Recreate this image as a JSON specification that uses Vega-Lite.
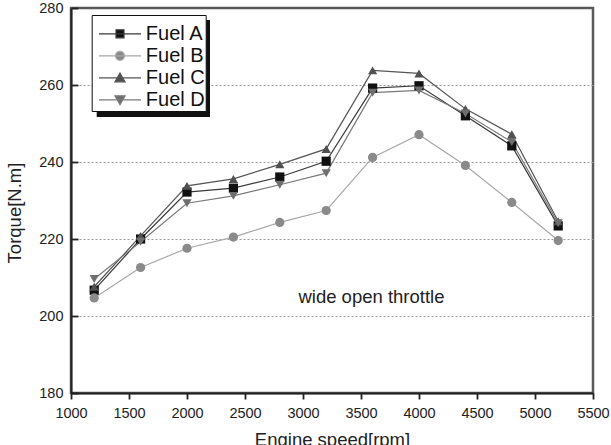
{
  "$schema": "https://vega.github.io/schema/vega-lite/v6.json",
  "width": 522,
  "height": 385,
  "autosize": {"type": "none"},
  "padding": {"left": 71, "top": 8, "right": 18, "bottom": 52},
  "background": "white",
  "config": {
    "font": "Liberation Sans",
    "view": {"stroke": "#5a5a5a", "strokeWidth": 2.5}
  },
  "datasets": {
    "torque": [
      {"rpm": 1200, "fuel": "Fuel A", "torque": 206.7},
      {"rpm": 1600, "fuel": "Fuel A", "torque": 220.0},
      {"rpm": 2000, "fuel": "Fuel A", "torque": 232.2},
      {"rpm": 2400, "fuel": "Fuel A", "torque": 233.2},
      {"rpm": 2800, "fuel": "Fuel A", "torque": 236.1},
      {"rpm": 3200, "fuel": "Fuel A", "torque": 240.2},
      {"rpm": 3600, "fuel": "Fuel A", "torque": 259.2},
      {"rpm": 4000, "fuel": "Fuel A", "torque": 259.8},
      {"rpm": 4400, "fuel": "Fuel A", "torque": 252.0},
      {"rpm": 4800, "fuel": "Fuel A", "torque": 244.2},
      {"rpm": 5200, "fuel": "Fuel A", "torque": 223.4},
      {"rpm": 1200, "fuel": "Fuel B", "torque": 204.7},
      {"rpm": 1600, "fuel": "Fuel B", "torque": 212.6},
      {"rpm": 2000, "fuel": "Fuel B", "torque": 217.6},
      {"rpm": 2400, "fuel": "Fuel B", "torque": 220.5},
      {"rpm": 2800, "fuel": "Fuel B", "torque": 224.3},
      {"rpm": 3200, "fuel": "Fuel B", "torque": 227.4},
      {"rpm": 3600, "fuel": "Fuel B", "torque": 241.2},
      {"rpm": 4000, "fuel": "Fuel B", "torque": 247.1},
      {"rpm": 4400, "fuel": "Fuel B", "torque": 239.1},
      {"rpm": 4800, "fuel": "Fuel B", "torque": 229.5},
      {"rpm": 5200, "fuel": "Fuel B", "torque": 219.6},
      {"rpm": 1200, "fuel": "Fuel C", "torque": 207.6},
      {"rpm": 1600, "fuel": "Fuel C", "torque": 220.8},
      {"rpm": 2000, "fuel": "Fuel C", "torque": 233.8},
      {"rpm": 2400, "fuel": "Fuel C", "torque": 235.6},
      {"rpm": 2800, "fuel": "Fuel C", "torque": 239.4},
      {"rpm": 3200, "fuel": "Fuel C", "torque": 243.4},
      {"rpm": 3600, "fuel": "Fuel C", "torque": 263.8},
      {"rpm": 4000, "fuel": "Fuel C", "torque": 263.0},
      {"rpm": 4400, "fuel": "Fuel C", "torque": 253.8},
      {"rpm": 4800, "fuel": "Fuel C", "torque": 247.2},
      {"rpm": 5200, "fuel": "Fuel C", "torque": 224.6},
      {"rpm": 1200, "fuel": "Fuel D", "torque": 209.6},
      {"rpm": 1600, "fuel": "Fuel D", "torque": 219.3},
      {"rpm": 2000, "fuel": "Fuel D", "torque": 229.3},
      {"rpm": 2400, "fuel": "Fuel D", "torque": 231.2},
      {"rpm": 2800, "fuel": "Fuel D", "torque": 234.1},
      {"rpm": 3200, "fuel": "Fuel D", "torque": 237.1},
      {"rpm": 3600, "fuel": "Fuel D", "torque": 258.0},
      {"rpm": 4000, "fuel": "Fuel D", "torque": 258.6},
      {"rpm": 4400, "fuel": "Fuel D", "torque": 252.6},
      {"rpm": 4800, "fuel": "Fuel D", "torque": 245.2},
      {"rpm": 5200, "fuel": "Fuel D", "torque": 224.1}
    ],
    "single": [{"note": "wide open throttle"}]
  },
  "layer": [
    {
      "data": {"name": "torque"},
      "mark": {"type": "line", "strokeWidth": 1.2},
      "encoding": {
        "x": {
          "field": "rpm",
          "type": "quantitative",
          "scale": {"domain": [1000, 5500], "nice": false, "zero": false},
          "axis": {
            "title": "Engine speed[rpm]",
            "values": [1000, 1250, 1500, 1750, 2000, 2250, 2500, 2750, 3000, 3250, 3500, 3750, 4000, 4250, 4500, 4750, 5000, 5250, 5500],
            "format": "d",
            "labelExpr": "datum.value % 500 === 0 ? datum.label : ''",
            "grid": false,
            "tickSize": 6,
            "tickDash": {"condition": {"test": "datum.value % 500 !== 0", "value": [4, 20]}, "value": []},
            "tickColor": "#222222",
            "tickWidth": 1.8,
            "domainColor": "#222222",
            "domainWidth": 2,
            "labelFontSize": 14.5,
            "labelColor": "#222222",
            "labelPadding": 7,
            "labelOverlap": false,
            "labelFlush": false,
            "titleFontSize": 18.5,
            "titleFontWeight": "normal",
            "titleColor": "#222222",
            "titleY": 37,
            "titleBaseline": "top"
          }
        },
        "y": {
          "field": "torque",
          "type": "quantitative",
          "scale": {"domain": [180, 280], "nice": false, "zero": false},
          "axis": {
            "title": "Torque[N.m]",
            "values": [180, 190, 200, 210, 220, 230, 240, 250, 260, 270, 280],
            "labelExpr": "datum.value % 20 === 0 ? datum.label : ''",
            "grid": true,
            "gridDash": [2, 2],
            "gridColor": "#9a9a9a",
            "gridWidth": 1,
            "gridOpacity": {"condition": {"test": "datum.value % 20 !== 0 || datum.value === 180 || datum.value === 280", "value": 0}, "value": 1},
            "tickSize": -7,
            "tickDash": {"condition": {"test": "datum.value % 20 !== 0", "value": [4.5, 20]}, "value": []},
            "tickColor": "#222222",
            "tickWidth": 1.8,
            "domainColor": "#222222",
            "domainWidth": 2,
            "labelFontSize": 14.5,
            "labelColor": "#222222",
            "labelPadding": 15,
            "labelOverlap": false,
            "labelFlush": false,
            "titleFontSize": 18.5,
            "titleFontWeight": "normal",
            "titleColor": "#222222",
            "titleX": -50.5,
            "titleY": 204.5,
            "titleBaseline": "alphabetic"
          }
        },
        "color": {
          "field": "fuel",
          "type": "nominal",
          "scale": {"domain": ["Fuel A", "Fuel B", "Fuel C", "Fuel D"], "range": ["#3a3a3a", "#a8a8a8", "#555555", "#7a7a7a"]},
          "legend": null
        }
      }
    },
    {
      "data": {"name": "torque"},
      "mark": {"type": "point", "filled": true, "opacity": 1, "size": 85},
      "encoding": {
        "x": {"field": "rpm", "type": "quantitative"},
        "y": {"field": "torque", "type": "quantitative"},
        "color": {
          "field": "fuel",
          "type": "nominal",
          "scale": {"domain": ["Fuel A", "Fuel B", "Fuel C", "Fuel D"], "range": ["#111111", "#8a8a8a", "#505050", "#6e6e6e"]},
          "legend": null
        },
        "shape": {
          "field": "fuel",
          "type": "nominal",
          "scale": {"domain": ["Fuel A", "Fuel B", "Fuel C", "Fuel D"], "range": ["square", "circle", "triangle-up", "triangle-down"]},
          "legend": null
        }
      }
    },
    {
      "data": {"name": "single"},
      "mark": {"type": "rect", "color": "#111111"},
      "encoding": {
        "x": {"datum": 1221.6, "type": "quantitative"},
        "x2": {"datum": 2198.3},
        "y": {"datum": 276.88, "type": "quantitative"},
        "y2": {"datum": 251.7}
      }
    },
    {
      "data": {"name": "torque"},
      "mark": {"type": "point", "filled": true, "opacity": 0},
      "encoding": {
        "x": {"field": "rpm", "type": "quantitative"},
        "y": {"field": "torque", "type": "quantitative"},
        "fill": {
          "field": "fuel",
          "type": "nominal",
          "scale": {"domain": ["Fuel A", "Fuel B", "Fuel C", "Fuel D"], "range": ["#111111", "#8a8a8a", "#505050", "#6e6e6e"]},
          "legend": {"title": " ", "titleFontSize": 6, "titlePadding": 4.3, "orient": "none", "legendX": 20.7, "legendY": 7, "fillColor": "white", "strokeColor": "#111111", "padding": 0.5, "symbolSize": 1764, "symbolOffset": 5.8, "symbolStrokeWidth": 1.2, "labelFontSize": 20, "labelColor": "#111111", "labelOffset": 3.8, "rowPadding": 2, "clipHeight": 16, "symbolOpacity": 1}
        },
        "stroke": {
          "field": "fuel",
          "type": "nominal",
          "scale": {"domain": ["Fuel A", "Fuel B", "Fuel C", "Fuel D"], "range": ["#3a3a3a", "#a8a8a8", "#555555", "#7a7a7a"]},
          "legend": {"title": " ", "titleFontSize": 6, "titlePadding": 4.3, "orient": "none", "legendX": 20.7, "legendY": 7, "fillColor": "white", "strokeColor": "#111111", "padding": 0.5, "symbolSize": 1764, "symbolOffset": 5.8, "symbolStrokeWidth": 1.2, "labelFontSize": 20, "labelColor": "#111111", "labelOffset": 3.8, "rowPadding": 2, "clipHeight": 16, "symbolOpacity": 1}
        },
        "shape": {
          "field": "fuel",
          "type": "nominal",
          "scale": {
            "domain": ["Fuel A", "Fuel B", "Fuel C", "Fuel D"],
            "range": [
              "M-1,0H1M-0.19,-0.19H0.19V0.19H-0.19Z",
              "M-1,0H1M-0.214,0A0.214,0.214 0 1,0 0.214,0A0.214,0.214 0 1,0 -0.214,0Z",
              "M-1,0H1M0,-0.23L0.24,0.19L-0.24,0.19Z",
              "M-1,0H1M0,0.23L0.24,-0.19L-0.24,-0.19Z"
            ]
          },
          "legend": {"title": " ", "titleFontSize": 6, "titlePadding": 4.3, "orient": "none", "legendX": 20.7, "legendY": 7, "fillColor": "white", "strokeColor": "#111111", "padding": 0.5, "symbolSize": 1764, "symbolOffset": 5.8, "symbolStrokeWidth": 1.2, "labelFontSize": 20, "labelColor": "#111111", "labelOffset": 3.8, "rowPadding": 2, "clipHeight": 16, "symbolOpacity": 1}
        }
      }
    },
    {
      "data": {"name": "single"},
      "mark": {"type": "text", "fontSize": 18.5, "color": "#222222", "font": "Liberation Sans"},
      "encoding": {
        "x": {"datum": 3590, "type": "quantitative"},
        "y": {"datum": 204.9, "type": "quantitative"},
        "text": {"field": "note"}
      }
    }
  ],
  "resolve": {"scale": {"color": "independent", "shape": "independent", "fill": "independent", "stroke": "independent"}}
}
